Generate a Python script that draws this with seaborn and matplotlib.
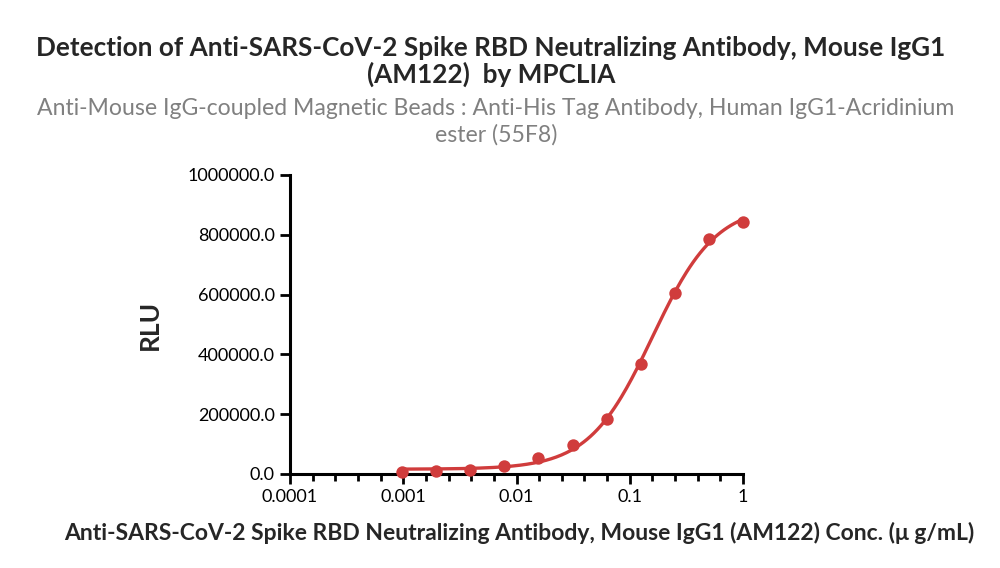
import numpy as np
import pandas as pd
import matplotlib
matplotlib.use("Agg")
import matplotlib.pyplot as plt
import matplotlib.ticker as mticker
import seaborn as sns

# ---------- data ----------
conc = [1.0, 0.5, 0.25, 0.125, 0.0625, 0.03125, 0.015625, 0.0078125,
        0.00390625, 0.001953125, 0.0009765625]
rlu = [843000, 786000, 606000, 367000, 184000, 97000, 54500, 28000,
       14000, 9000, 6000]

x_ticks = [0.0001, 0.001, 0.01, 0.1, 1]
x_tick_labels = ["0.0001", "0.001", "0.01", "0.1", "1"]
y_ticks = [0, 200000, 400000, 600000, 800000, 1000000]

title = "Detection of Anti-SARS-CoV-2 Spike RBD Neutralizing Antibody, Mouse IgG1\n(AM122)  by MPCLIA"
subtitle = "Anti-Mouse IgG-coupled Magnetic Beads : Anti-His Tag Antibody, Human IgG1-Acridinium\nester (55F8)"
xlabel = "Anti-SARS-CoV-2 Spike RBD Neutralizing Antibody, Mouse IgG1 (AM122) Conc. (\u03bc g/mL)"
ylabel = "RLU"

RED = "#D03C3C"

df = pd.DataFrame({"conc": conc, "rlu": rlu})

# ---------- 4PL fit (coarse grid search on the points) ----------
x = np.array(conc)
y = np.array(rlu, dtype=float)
ec = 10 ** np.linspace(-1.3, -0.3, 51)[:, None]
best = None
for bottom in np.linspace(0, 20000, 11):
    for hill in np.linspace(0.9, 2.0, 23):
        for top in np.linspace(800000, 1100000, 61):
            pred = bottom + (top - bottom) / (1 + (ec / x[None, :]) ** hill)
            err = ((pred - y[None, :]) ** 2).sum(axis=1)
            i = err.argmin()
            if best is None or err[i] < best[0]:
                best = (err[i], bottom, top, ec[i, 0], hill)
_, b, t, ec50, h = best
xs = np.logspace(np.log10(min(conc)), 0, 200)
curve = pd.DataFrame({"conc": xs, "rlu": b + (t - b) / (1 + (ec50 / xs) ** h)})

# ---------- plot ----------
sns.set_style("ticks")
plt.rcParams["font.family"] = ["Lato", "DejaVu Sans"]

fig = plt.figure(figsize=(10, 5.68), dpi=100)
ax = fig.add_axes([0.29, 0.1655, 0.453, 0.5265])

sns.lineplot(data=curve, x="conc", y="rlu", ax=ax, color=RED, linewidth=2.4)
sns.scatterplot(data=df, x="conc", y="rlu", ax=ax, color=RED, s=80,
                edgecolor=RED, linewidth=0, clip_on=False, zorder=5)

ax.set_xscale("log")
ax.set_xlim(0.0001, 1)
ax.set_ylim(0, 1000000)
ax.set_xticks(x_ticks)
ax.set_xticklabels(x_tick_labels)
minor = [10 ** (k + f) for k in range(-4, 0) for f in (0.2, 0.4, 0.6, 0.8)]
ax.xaxis.set_minor_locator(mticker.FixedLocator(minor))
ax.xaxis.set_minor_formatter(mticker.NullFormatter())
ax.set_yticks(y_ticks)
ax.yaxis.set_major_formatter(mticker.FormatStrFormatter("%.1f"))

for s in ["top", "right"]:
    ax.spines[s].set_visible(False)
for s in ["left", "bottom"]:
    ax.spines[s].set_linewidth(2.2)
    ax.spines[s].set_color("black")
ax.tick_params(axis="both", which="major", length=7, width=2, labelsize=13,
               colors="black", pad=4)
ax.tick_params(axis="x", which="minor", length=5, width=2, colors="black")

ax.set_xlabel("")
ax.set_ylabel(ylabel, fontsize=19, fontweight="bold")
ax.yaxis.set_label_coords(-0.283, 0.5)

fig.text(0.519, 0.062, xlabel, ha="center", va="center", fontsize=16.5,
         fontweight="bold")
fig.text(0.491, 0.892, title, ha="center", va="center", fontsize=18.8,
         fontweight="bold", linespacing=1.05)
fig.text(0.496, 0.785, subtitle, ha="center", va="center", fontsize=16.6,
         color="#808080", linespacing=1.3)

fig.savefig("out.png", dpi=100)
